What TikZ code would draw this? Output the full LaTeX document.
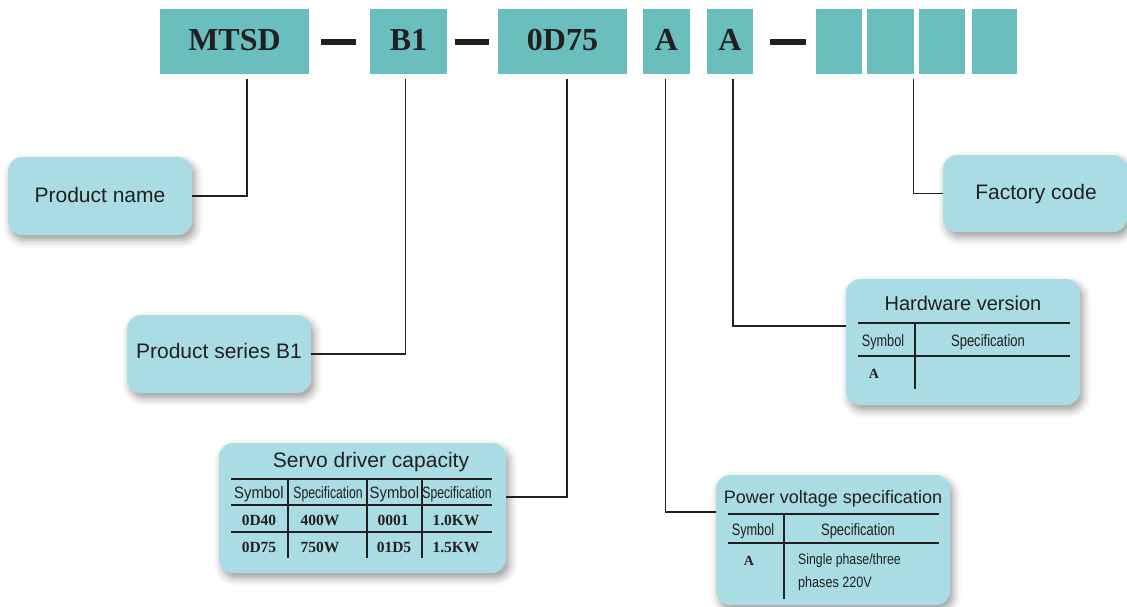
\documentclass[tikz,border=0pt]{standalone}
\usepackage{fontspec}
\setmainfont{Liberation Sans}
\newfontfamily\tnr{Liberation Serif}
\usepackage{graphicx}
\usetikzlibrary{calc,shadows.blur}
\definecolor{tealbox}{HTML}{6ABEBE}
\definecolor{callfill}{HTML}{A9DDE3}
\definecolor{ink}{HTML}{231F20}
\newcommand\sx[2]{\scalebox{#1}[1]{#2}}
\begin{document}
\begin{tikzpicture}[x=1pt,y=-1pt,
 topbox/.style={fill=tealbox, draw=none, inner sep=0pt, minimum height=65pt, text depth=3pt, font=\tnr\bfseries\fontsize{32}{32}\selectfont, text=ink},
 callout/.style={fill=callfill, rounded corners=14pt, inner sep=0pt,
   blur shadow={shadow xshift=3pt, shadow yshift=-5pt, shadow blur radius=8pt, shadow opacity=40}},
 dashbar/.style={line width=6pt, draw=ink},
 conn/.style={line width=1.6pt, draw=ink},
 rulel/.style={line width=1.1pt, draw=ink},
 lbl/.style={font=\fontsize{21}{21}\selectfont, text=ink, inner sep=0pt, anchor=base},
 ttl/.style={font=\fontsize{20}{20}\selectfont, text=ink, inner sep=0pt, anchor=base},
 hdr/.style={font=\fontsize{16.5}{16.5}\selectfont, text=ink, inner sep=0pt, anchor=base},
 dat/.style={font=\tnr\bfseries\fontsize{15.5}{15.5}\selectfont, text=ink, inner sep=0pt, anchor=base},
 sml/.style={font=\tnr\bfseries\fontsize{14}{14}\selectfont, text=ink, inner sep=0pt, anchor=base},
 spec/.style={font=\fontsize{15}{15}\selectfont, text=ink, inner sep=0pt, anchor=base west}
]
\useasboundingbox (0,0) rectangle (1127,606);

% ---- top code boxes
\node[topbox, minimum width=149pt] (mtsd) at (234.5,41.5) {MTSD};
\node[topbox, minimum width=77pt] (b1) at (408.5,41.5) {B1};
\node[topbox, minimum width=129pt] (d75) at (562.5,41.5) {0D75};
\node[topbox, minimum width=47pt] (a1) at (666.5,41.5) {A};
\node[topbox, minimum width=46pt] (a2) at (730,41.5) {A};
\node[topbox, minimum width=46pt] (f1) at (839,41.5) {};
\node[topbox, minimum width=47pt] (f2) at (890.5,41.5) {};
\node[topbox, minimum width=46pt] (f3) at (942,41.5) {};
\node[topbox, minimum width=45pt] (f4) at (994.5,41.5) {};
\coordinate (fc) at ($(f2.south east)!0.5!(f3.south west)$);

\draw[dashbar, shorten <=12pt, shorten >=14pt] (mtsd.east) -- (b1.west);
\draw[dashbar, shorten <=8pt, shorten >=8.5pt] (b1.east) -- (d75.west);
\draw[dashbar, shorten <=17pt, shorten >=10pt] (a2.east) -- (f1.west);

% ---- callouts
\node[callout, minimum width=184pt, minimum height=78pt] (pname) at (100,196) {};
\node[lbl] (pnamet) at (100,202) {Product name};

\node[callout, minimum width=184pt, minimum height=78pt] (pseries) at (219,354) {};
\node[lbl] (pseriest) at (219,358) {Product series B1};

\node[callout, minimum width=184pt, minimum height=77pt] (factory) at (1035,193.5) {};
\node[lbl] (factoryt) at (1036,199) {Factory code};

% servo driver capacity
\node[callout, minimum width=287pt, minimum height=130pt] (servo) at (362.5,508) {};
\node[ttl, font=\fontsize{21}{21}\selectfont] (servot) at (371,467) {Servo driver capacity};
\draw[rulel] (231,479) -- (492,479);
\draw[rulel] (231,505) -- (492,505);
\draw[rulel] (231,532) -- (492,532);
\draw[rulel] (288,479) -- (288,558);
\draw[rulel] (367,479) -- (367,558);
\draw[rulel] (422,479) -- (422,558);
\node[hdr] (sh1) at (259,498) {\sx{0.9}{Symbol}};
\node[hdr] (sh2) at (328,498) {\sx{0.74}{Specification}};
\node[hdr] (sh3) at (394.5,498) {\sx{0.9}{Symbol}};
\node[hdr] (sh4) at (457,498) {\sx{0.74}{Specification}};
\node[dat] (s11) at (259,525) {0D40};
\node[dat] (s12) at (320,525) {400W};
\node[dat] (s13) at (393,525) {0001};
\node[dat] (s14) at (456,525) {1.0KW};
\node[dat] (s21) at (259,552) {0D75};
\node[dat] (s22) at (320,552) {750W};
\node[dat] (s23) at (394,552) {01D5};
\node[dat] (s24) at (456,552) {1.5KW};

% power voltage specification
\node[callout, minimum width=234pt, minimum height=130pt] (power) at (833,540) {};
\node[ttl, font=\fontsize{18}{18}\selectfont] (powert) at (833,503) {Power voltage specification};
\draw[rulel] (728,514) -- (939,514);
\draw[rulel] (728,543) -- (939,543);
\draw[rulel] (784,514) -- (784,599);
\node[hdr] (ph1) at (753,535) {\sx{0.77}{Symbol}};
\node[hdr] (ph2) at (858,535) {\sx{0.79}{Specification}};
\node[sml] (pa) at (749,565) {A};
\node[spec] (ps1) at (798,564) {\sx{0.82}{Single phase/three}};
\node[spec] (ps2) at (798,587) {\sx{0.84}{phases 220V}};

% hardware version
\node[callout, minimum width=234pt, minimum height=126pt] (hw) at (963,342) {};
\node[ttl] (hwt) at (963,310) {Hardware version};
\draw[rulel] (858,323) -- (1070,323);
\draw[rulel] (858,356) -- (1070,356);
\draw[rulel] (915,323) -- (915,389);
\node[hdr] (hh1) at (883,346) {\sx{0.77}{Symbol}};
\node[hdr] (hh2) at (988,346) {\sx{0.79}{Specification}};
\node[sml] (ha) at (874,378) {A};

% ---- connectors
\draw[conn] (pname.east) -| ([xshift=12.5pt,yshift=-5pt]mtsd.south);
\draw[conn] (pseries.east) -| ([xshift=-3pt,yshift=-5pt]b1.south);
\draw[conn] ([yshift=11pt]servo.east) -| ([xshift=4.5pt,yshift=-5pt]d75.south);
\draw[conn] ([yshift=28pt]power.west) -| ([xshift=-1pt,yshift=-5pt]a1.south);
\draw[conn] ([yshift=16pt]hw.west) -| ([xshift=3pt,yshift=-5pt]a2.south);
\draw[conn] (factory.west) -| ([xshift=-3pt,yshift=-5pt]fc);
\end{tikzpicture}
\end{document}
